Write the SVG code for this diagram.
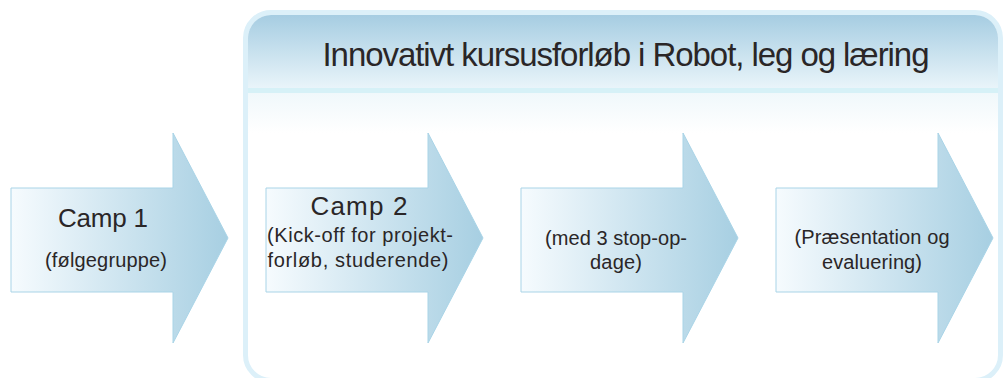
<svg xmlns="http://www.w3.org/2000/svg" width="1003" height="378" viewBox="0 0 1003 378">
<defs>
<linearGradient id="arrowGrad" x1="0" y1="0" x2="1" y2="0">
<stop offset="0" stop-color="#f6fbfe"/>
<stop offset="1" stop-color="#a7cfe2"/>
</linearGradient>
<linearGradient id="headGrad" x1="0" y1="0" x2="0" y2="1">
<stop offset="0" stop-color="#a6cde2"/>
<stop offset="1" stop-color="#eaf5fa"/>
</linearGradient>
<linearGradient id="lowGrad" x1="0" y1="0" x2="0" y2="1">
<stop offset="0" stop-color="#f0f8fb"/>
<stop offset="1" stop-color="#ffffff"/>
</linearGradient>
<clipPath id="boxClip">
<rect x="248" y="15" width="750" height="365" rx="23"/>
</clipPath>
<path id="arrowShape" d="M0,0 H162 V-55 L217,50 L162,155 V104 H0 Z"/>
<style>
.arrow{fill:url(#arrowGrad);stroke:#a9d4e7;stroke-width:1}
.t{font-family:"Liberation Sans","DejaVu Sans",sans-serif;fill:#2a2627;text-anchor:middle}
.big{font-size:26px}
.small{font-size:20px}
.title{font-size:33px}
</style>
</defs>
<g id="container">
<rect x="245.5" y="12.5" width="755" height="368" rx="25.5" fill="#ffffff" stroke="#dcf0f9" stroke-width="5"/>
<g clip-path="url(#boxClip)">
<rect x="248" y="15" width="750" height="74" fill="url(#headGrad)"/>
<rect x="248" y="88" width="750" height="5" fill="#d6f1f7"/>
<rect x="248" y="93" width="750" height="40" fill="url(#lowGrad)"/>
</g>
<text class="t title" x="626" y="66" textLength="607" lengthAdjust="spacing">Innovativt kursusforløb i Robot, leg og læring</text>
</g>
<g id="connectors"></g>
<g id="node1">
<use href="#arrowShape" class="arrow" x="11" y="188"/>
<text class="t big" x="103" y="227" textLength="90" lengthAdjust="spacing">Camp 1</text>
<text class="t small" x="106" y="267" textLength="122" lengthAdjust="spacing">(følgegruppe)</text>
</g>
<g id="node2">
<use href="#arrowShape" class="arrow" x="266" y="188"/>
<text class="t big" x="359" y="215" textLength="97" lengthAdjust="spacing">Camp 2</text>
<text class="t small" x="360" y="242" textLength="186" lengthAdjust="spacing">(Kick-off for projekt-</text>
<text class="t small" x="358" y="267" textLength="181" lengthAdjust="spacing">forløb, studerende)</text>
</g>
<g id="node3">
<use href="#arrowShape" class="arrow" x="521" y="188"/>
<text class="t small" x="616" y="245" textLength="142" lengthAdjust="spacing">(med 3 stop-op-</text>
<text class="t small" x="616" y="269" textLength="52" lengthAdjust="spacing">dage)</text>
</g>
<g id="node4">
<use href="#arrowShape" class="arrow" x="776" y="188"/>
<text class="t small" x="872" y="244" textLength="155" lengthAdjust="spacing">(Præsentation og</text>
<text class="t small" x="872" y="269" textLength="100" lengthAdjust="spacing">evaluering)</text>
</g>
</svg>
